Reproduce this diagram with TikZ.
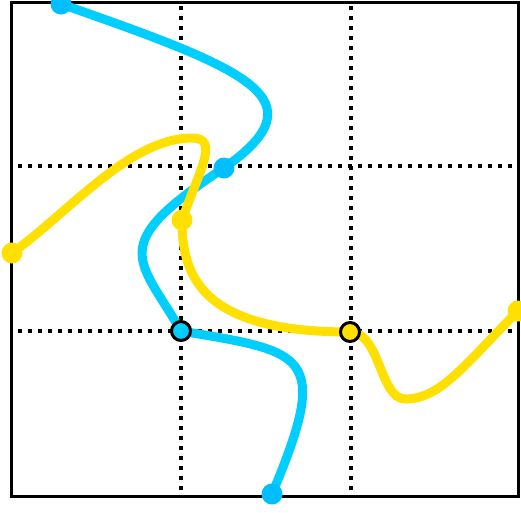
\documentclass[tikz,border=0pt]{standalone}
\definecolor{cblue}{RGB}{0,206,255}
\definecolor{cbluedot}{RGB}{0,190,255}
\definecolor{cyel}{RGB}{255,224,0}
\begin{document}
\begin{tikzpicture}[x=1pt,y=-1pt,
  gridline/.style={line width=4pt, dash pattern=on 4pt off 6pt},
  curveb/.style={cblue, line width=9pt, line cap=round},
  curvey/.style={cyel, line width=9pt, line cap=round},
  bdot/.style={circle, inner sep=0pt, minimum size=21pt, fill=cbluedot},
  ydot/.style={circle, inner sep=0pt, minimum size=21pt, fill=cyel},
  bring/.style={circle, inner sep=0pt, minimum size=19pt, fill=cblue, draw=black, line width=3pt},
  yring/.style={circle, inner sep=0pt, minimum size=19pt, fill=cyel, draw=black, line width=3pt}]
\useasboundingbox (0,0) rectangle (521,512);
\draw[line width=3pt] (11,2) rectangle (518,496);
\draw[gridline] (181,6) -- (181,491);
\draw[gridline] (351,6) -- (351,491);
\draw[gridline] (18,166) -- (518,166);
\draw[gridline] (18,331) -- (518,331);
% points
\coordinate (b1) at (61,4);
\coordinate (b2) at (224,168);
\coordinate (b3) at (181,331);
\coordinate (b4) at (272,494);
\coordinate (y1) at (12,253);
\coordinate (yt) at (192,138);
\coordinate (y2) at (182,220);
\coordinate (y3) at (350,332);
\coordinate (yu) at (405,399);
\coordinate (y4) at (518,311);
% blue curve
\draw[curveb] (b1) .. controls (250,70) and (322,99) .. (b2)
  .. controls (105,246) and (139,258) .. (b3)
  .. controls (305,352) and (332,352) .. (b4);
% yellow curve
\draw[curvey] (y1) .. controls (69,212) and (130,138) .. (yt)
  .. controls (220,138) and (199.5,170) .. (y2)
  .. controls (182,276) and (201,332) .. (y3)
  .. controls (380,332) and (380,399) .. (yu)
  .. controls (441,399) and (465,364) .. (y4);
% dots
\node[bdot] (nb1) at (b1) {};
\node[bdot] (nb2) at (b2) {};
\node[bring] (nb3) at (b3) {};
\node[bdot] (nb4) at (b4) {};
\node[ydot] (ny1) at (y1) {};
\node[ydot] (ny2) at (y2) {};
\node[yring] (ny3) at (y3) {};
\node[ydot] (ny4) at (y4) {};
\end{tikzpicture}
\end{document}
